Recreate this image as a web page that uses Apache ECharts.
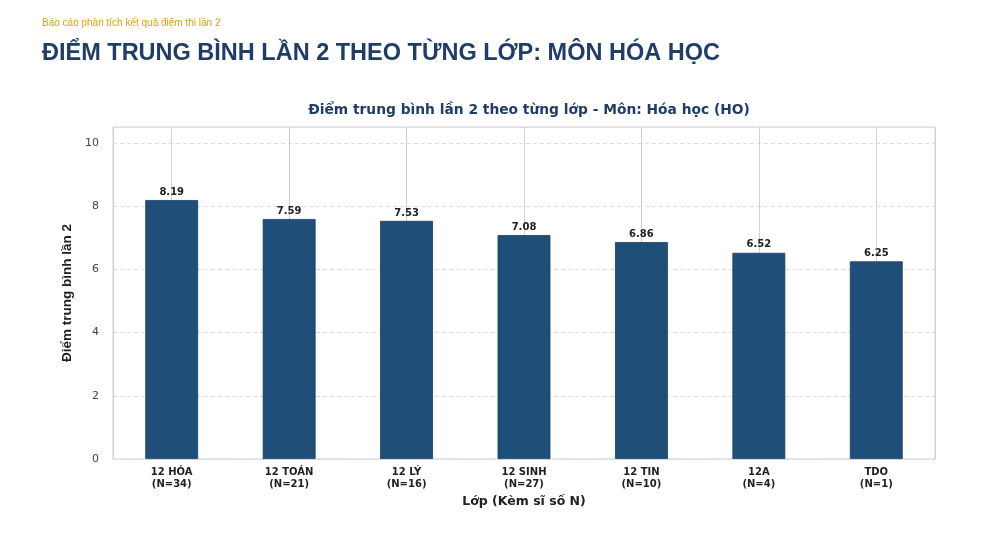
<!DOCTYPE html>
<html>
<head>
<meta charset="utf-8">
<script src="https://cdn.jsdelivr.net/npm/echarts@6/dist/echarts.min.js"></script>
<style>
html,body{margin:0;padding:0;background:#fff;}
#chart{width:1000px;height:550px;}
</style>
</head>
<body>
<div id="chart"></div>
<script>
const classes = ['12 HÓA', '12 TOÁN', '12 LÝ', '12 SINH', '12 TIN', '12A', 'TDO'];
const counts = [34, 21, 16, 27, 10, 4, 1];
const averages = [8.19, 7.59, 7.53, 7.08, 6.86, 6.52, 6.25];
const yTicks = [0, 2, 4, 6, 8, 10];

const categories = classes.map((c, i) => c + '\n(N=' + counts[i] + ')');
const DJ = 'DejaVu Sans, Liberation Sans, Arial';

const chart = echarts.init(document.getElementById('chart'));
chart.setOption({
  backgroundColor: '#ffffff',
  animation: false,
  title: [
    {
      text: 'Báo cáo phân tích kết quả điểm thi lần 2',
      left: 37, top: 13,
      textStyle: { color: '#d9a21b', fontSize: 10, fontWeight: 'normal', fontFamily: 'Liberation Sans Narrow, Liberation Sans, Arial' }
    },
    {
      text: 'ĐIỂM TRUNG BÌNH LẦN 2 THEO TỪNG LỚP: MÔN HÓA HỌC',
      left: 37, top: 37,
      textStyle: { color: '#1f3d66', fontSize: 23.5, fontWeight: 'bold', fontFamily: 'Liberation Sans, Arial' }
    },
    {
      text: 'Điểm trung bình lần 2 theo từng lớp - Môn: Hóa học (HO)',
      left: 524, top: 98, textAlign: 'center',
      textStyle: { color: '#1f3d66', fontSize: 13.8, fontWeight: 'bold', fontFamily: DJ }
    }
  ],
  grid: {
    left: 113, right: 65, top: 127, bottom: 91,
    show: true, borderColor: '#d0d0d0', borderWidth: 1, backgroundColor: 'transparent'
  },
  xAxis: [
    {
      type: 'category',
      data: categories,
      name: 'Lớp (Kèm sĩ số N)',
      nameLocation: 'middle',
      nameGap: 29,
      nameTextStyle: { color: '#222', fontSize: 12.5, fontWeight: 'bold', fontFamily: DJ },
      axisLine: { show: false },
      axisTick: { show: false },
      splitLine: { show: false },
      axisLabel: {
        color: '#222', fontSize: 10, fontWeight: 'bold', lineHeight: 12, margin: 7,
        fontFamily: DJ
      }
    },
    {
      type: 'value',
      min: -0.5, max: classes.length - 0.5, splitNumber: classes.length,
      position: 'bottom',
      axisLine: { show: false },
      axisTick: { show: false },
      axisLabel: { show: false },
      splitLine: { show: true, lineStyle: { color: '#d0d0d0', type: 'solid', width: 1 } }
    }
  ],
  yAxis: {
    type: 'value',
    min: 0, max: 10.5, interval: 2,
    name: 'Điểm trung bình lần 2',
    nameLocation: 'middle',
    nameGap: 28,
    nameTextStyle: { color: '#222', fontSize: 13.5, fontWeight: 'bold', fontFamily: 'Liberation Sans Narrow, Liberation Sans, Arial' },
    axisLine: { show: false },
    axisTick: { show: false },
    axisLabel: {
      color: '#444', fontSize: 11, margin: 14, fontFamily: DJ,
      formatter: v => yTicks.indexOf(v) >= 0 ? String(v) : ''
    },
    splitLine: { show: true, lineStyle: { color: '#dcdcdc', type: [4, 3], width: 1 } }
  },
  series: [
    {
      type: 'bar',
      data: averages,
      xAxisIndex: 0,
      z: 3,
      barWidth: '45%',
      itemStyle: { color: '#1f4e79', borderColor: '#183e60', borderWidth: 0.8 },
      label: {
        show: true, position: 'top', distance: 3,
        color: '#222', fontSize: 10, fontWeight: 'bold', fontFamily: DJ,
        formatter: p => p.value.toFixed(2)
      }
    }
  ]
});
</script>
</body>
</html>
